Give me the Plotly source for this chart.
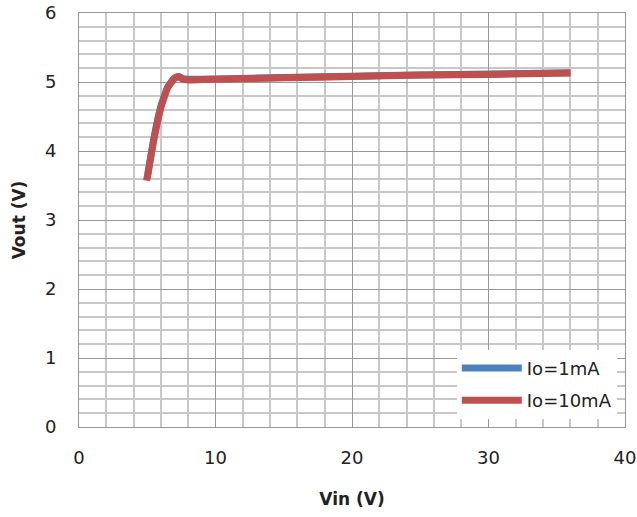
import plotly.graph_objects as go

vin_1mA = [5.0, 5.5, 6.0, 6.5, 7.0, 7.3, 7.6, 8.0, 9.0, 10, 15, 20, 25, 30, 36]
vout_1mA = [3.60, 4.20, 4.65, 4.93, 5.06, 5.08, 5.05, 5.04, 5.04, 5.045, 5.065, 5.085, 5.10, 5.115, 5.135]
vin_10mA = [4.95, 5.5, 6.0, 6.5, 7.0, 7.3, 7.6, 8.0, 9.0, 10, 15, 20, 25, 30, 36]
vout_10mA = [3.57, 4.18, 4.63, 4.92, 5.05, 5.08, 5.04, 5.03, 5.035, 5.04, 5.06, 5.08, 5.10, 5.11, 5.13]

font_family = "DejaVu Sans, Verdana, sans-serif"

fig = go.Figure()
fig.add_trace(go.Scatter(x=vin_1mA, y=vout_1mA, mode="lines", name="Io=1mA", legendgroup="a",
                         line=dict(color="#4f81bd", width=7, shape="spline", smoothing=0.4)))
fig.add_trace(go.Scatter(x=vin_10mA, y=vout_10mA, mode="lines", name="Io=10mA", legendgroup="b",
                         line=dict(color="#c0504d", width=7, shape="spline", smoothing=0.4)))

fig.update_layout(
    width=637, height=517,
    margin=dict(l=79, r=12, t=13, b=90),
    paper_bgcolor="white", plot_bgcolor="white",
    font=dict(family=font_family, size=18, color="#222"),
    showlegend=True,
    legend=dict(x=0.985, y=0.02, xanchor="right", yanchor="bottom",
                bgcolor="white", borderwidth=0, itemwidth=60,
                traceorder="grouped", tracegroupgap=6,
                font=dict(size=18, color="#222")),
    xaxis=dict(range=[0, 40], dtick=10, tick0=0, automargin=False,
               showgrid=True, gridcolor="#999999", gridwidth=1,
               minor=dict(dtick=2, showgrid=True, gridcolor="#c8c8c8", gridwidth=1.5),
               showline=True, linecolor="#999999", linewidth=1, mirror=True,
               zeroline=False, ticks="", ticklabelstandoff=14,
               tickfont=dict(size=18),
               title=dict(text="<b>Vin (V)</b>", standoff=26, font=dict(size=17))),
    yaxis=dict(range=[0, 6], dtick=1, tick0=0, automargin=False,
               showgrid=True, gridcolor="#999999", gridwidth=1,
               minor=dict(dtick=0.2, showgrid=True, gridcolor="#c8c8c8", gridwidth=1.5),
               showline=True, linecolor="#999999", linewidth=1, mirror=True,
               zeroline=False, ticks="", ticklabelstandoff=18,
               tickfont=dict(size=18),
               title=dict(text="<b>Vout (V)</b>", standoff=14, font=dict(size=17))),
)

fig.write_html("out.html", config={"displayModeBar": False},
               post_script="document.body.style.margin='0';")
